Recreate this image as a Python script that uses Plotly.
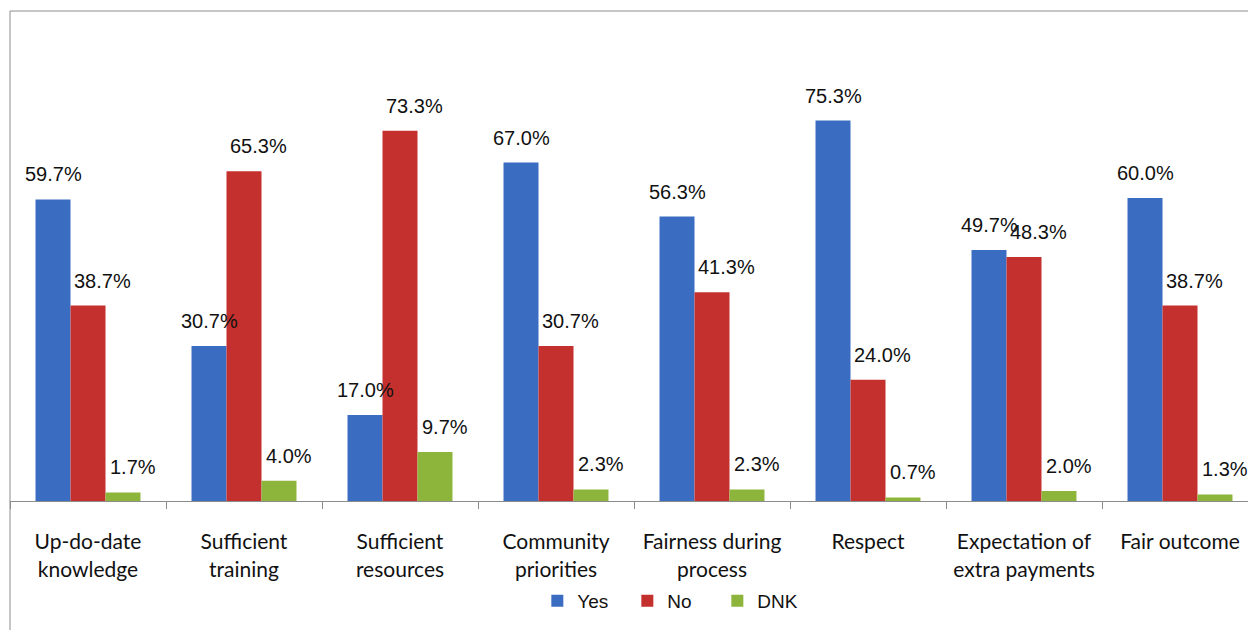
import plotly.graph_objects as go

categories = [
    "Up-do-date<br>knowledge",
    "Sufficient<br>training",
    "Sufficient<br>resources",
    "Community<br>priorities",
    "Fairness during<br>process",
    "Respect",
    "Expectation of<br>extra payments",
    "Fair outcome",
]
yes_vals = [59.7, 30.7, 17.0, 67.0, 56.3, 75.3, 49.7, 60.0]
no_vals = [38.7, 65.3, 73.3, 30.7, 41.3, 24.0, 48.3, 38.7]
dnk_vals = [1.7, 4.0, 9.7, 2.3, 2.3, 0.7, 2.0, 1.3]

series = [
    ("Yes", yes_vals, "#3a6dc2"),
    ("No", no_vals, "#c3302d"),
    ("DNK", dnk_vals, "#8db53b"),
]

W, H = 1248, 630
M_L, M_R, M_T, M_B = 10, 0, 11, 129
CAT_PX = 156.0
plot_w = W - M_L - M_R
BARGAP = 0.327
bar_px = CAT_PX * (1 - BARGAP) / 3

fig = go.Figure()
for name, vals, color in series:
    fig.add_trace(go.Bar(
        name=name,
        x=categories,
        y=vals,
        marker=dict(color=color, line=dict(width=0)),
    ))

# value labels above each bar, nudged per series
label_dx = {"Yes": 0, "No": 14, "DNK": 10}
annotations = []
for s_idx, (name, vals, color) in enumerate(series):
    offset = (s_idx - 1) * bar_px
    for i, v in enumerate(vals):
        annotations.append(dict(
            x=i, y=v, xref="x", yref="y",
            text=f"{v:.1f}%",
            showarrow=False,
            xshift=offset + label_dx[name],
            yshift=25,
            yanchor="middle",
            font=dict(family="Liberation Sans", size=20, color="#111111"),
        ))

fig.update_layout(
    width=W, height=H,
    margin=dict(l=M_L, r=M_R, t=M_T, b=M_B),
    paper_bgcolor="white",
    plot_bgcolor="white",
    barmode="group",
    bargap=BARGAP,
    bargroupgap=0,
    annotations=annotations,
    showlegend=True,
    legend=dict(
        orientation="h",
        x=0.535, xanchor="center",
        y=-0.204, yanchor="middle",
        font=dict(family="Liberation Sans", size=19, color="#111111"),
        itemwidth=30,
        entrywidth=45,
        bgcolor="rgba(0,0,0,0)",
    ),
    xaxis=dict(
        range=[-0.5, -0.5 + plot_w / CAT_PX],
        showline=True, linecolor="#8c8c8c", linewidth=1,
        ticks="outside", tickson="boundaries", ticklen=7,
        tickcolor="#8c8c8c",
        tickfont=dict(family="Lato", size=21, color="#111111"),
        ticklabelstandoff=22,
        showgrid=False, zeroline=False,
        fixedrange=True,
    ),
    yaxis=dict(
        range=[0, 97],
        visible=False,
        showgrid=False, zeroline=False,
    ),
    shapes=[dict(
        type="rect", xref="paper", yref="paper",
        x0=0, x1=1.05, y0=-0.5, y1=1,
        line=dict(color="#8c8c8c", width=1),
        fillcolor="rgba(0,0,0,0)",
        layer="below",
    )],
)

fig.write_html("out.html")
